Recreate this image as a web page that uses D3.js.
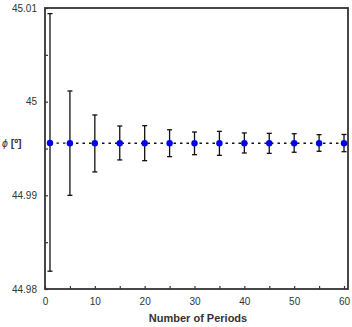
<!DOCTYPE html>
<html>
<head>
<meta charset="utf-8">
<script src="https://cdn.jsdelivr.net/npm/d3@7"></script>
<style>
  body { margin: 0; background: #fff; }
  svg { display: block; font-family: "Liberation Sans", Arial, sans-serif; }
</style>
</head>
<body>
<svg id="chart" width="352" height="327"></svg>
<script>
// periods and measured phase with error bar limits
const periods = [1, 5, 10, 15, 20, 25, 30, 35, 40, 45, 50, 55, 60];
const phase = [44.99558, 44.99556, 44.99556, 44.99556, 44.99556, 44.99556, 44.99556, 44.99556, 44.99556, 44.99556, 44.99556, 44.99556, 44.99556];
const upper = [45.0094, 45.00114, 44.99858, 44.9974, 44.99744, 44.9970, 44.99676, 44.99683, 44.99666, 44.99662, 44.99658, 44.99648, 44.9965];
const lower = [44.9819, 44.9900, 44.9925, 44.99378, 44.9937, 44.99413, 44.99434, 44.99427, 44.99452, 44.99448, 44.9946, 44.9947, 44.99466];
const yTickLabels = [44.98, 44.99, 45, 45.01];
const xTickLabels = [0, 10, 20, 30, 40, 50, 60];

const data = periods.map((p, i) => ({ x: p, y: phase[i], hi: upper[i], lo: lower[i] }));

const svg = d3.select("#chart");
const m = { left: 45, right: 348, top: 8, bottom: 289 };

const xScale = d3.scaleLinear().domain([0, 60.8]).range([m.left, m.right]);
const yScale = d3.scaleLinear().domain([44.98, 45.01]).range([m.bottom, m.top]);

const axisColor = "#333";
const textColor = "#333";

// x axis ticks (inward)
const xAxis = d3.axisBottom(xScale)
    .tickValues(d3.range(0, 61, 5))
    .tickSize(-3)
    .tickFormat(d => xTickLabels.includes(d) ? d : "");
svg.append("g")
    .attr("transform", `translate(0, ${m.bottom})`)
    .call(xAxis)
    .call(g => g.select(".domain").remove())
    .call(g => g.selectAll(".tick line").attr("stroke", axisColor).attr("stroke-width", 1.2))
    .call(g => g.selectAll(".tick text").attr("dy", "1.3em").attr("font-size", 10).attr("fill", textColor));

// y axis ticks (inward)
const yAxis = d3.axisLeft(yScale)
    .tickValues(d3.range(0, 7).map(i => 44.98 + i * 0.005))
    .tickSize(-3)
    .tickFormat(d => {
        const r = Math.round(d * 1000) / 1000;
        const hit = yTickLabels.find(v => Math.abs(v - r) < 1e-9);
        return hit !== undefined ? String(hit) : "";
    });
svg.append("g")
    .attr("transform", `translate(${m.left}, 0)`)
    .call(yAxis)
    .call(g => g.select(".domain").remove())
    .call(g => g.selectAll(".tick line").attr("stroke", axisColor).attr("stroke-width", 1.2))
    .call(g => g.selectAll(".tick text").attr("x", -8).attr("font-size", 10).attr("fill", textColor));

// frame
svg.append("rect")
    .attr("x", m.left).attr("y", m.top)
    .attr("width", m.right - m.left).attr("height", m.bottom - m.top)
    .attr("fill", "none")
    .attr("stroke", axisColor)
    .attr("stroke-width", 1.8);

// dotted connecting line
const line = d3.line().x(d => xScale(d.x)).y(d => yScale(d.y));
svg.append("path")
    .datum(data)
    .attr("fill", "none")
    .attr("stroke", "#111")
    .attr("stroke-width", 1.3)
    .attr("stroke-dasharray", "2.5,4")
    .attr("d", line);

// error bars
const eb = svg.append("g").attr("stroke", "#111").attr("stroke-width", 1.3);
eb.selectAll("line.v").data(data).join("line").attr("class", "v")
    .attr("x1", d => xScale(d.x)).attr("x2", d => xScale(d.x))
    .attr("y1", d => yScale(d.hi)).attr("y2", d => yScale(d.lo));
eb.selectAll("line.t").data(data).join("line").attr("class", "t")
    .attr("x1", d => xScale(d.x) - 2.5).attr("x2", d => xScale(d.x) + 2.5)
    .attr("y1", d => yScale(d.hi)).attr("y2", d => yScale(d.hi));
eb.selectAll("line.b").data(data).join("line").attr("class", "b")
    .attr("x1", d => xScale(d.x) - 2.5).attr("x2", d => xScale(d.x) + 2.5)
    .attr("y1", d => yScale(d.lo)).attr("y2", d => yScale(d.lo));

// points
svg.append("g").selectAll("circle").data(data).join("circle")
    .attr("cx", d => xScale(d.x))
    .attr("cy", d => yScale(d.y))
    .attr("r", 3.2)
    .attr("fill", "#0000ee");

// axis titles
svg.append("text")
    .attr("x", 198)
    .attr("y", 322)
    .attr("text-anchor", "middle")
    .attr("font-size", 11)
    .attr("font-weight", "bold")
    .attr("fill", textColor)
    .text("Number of Periods");

const yt = svg.append("text")
    .attr("x", 2)
    .attr("y", 147)
    .attr("font-size", 10.5)
    .attr("fill", textColor);
yt.append("tspan").attr("font-style", "italic").text("ϕ");
yt.append("tspan").attr("font-weight", "bold").text(" [º]");
</script>
</body>
</html>
